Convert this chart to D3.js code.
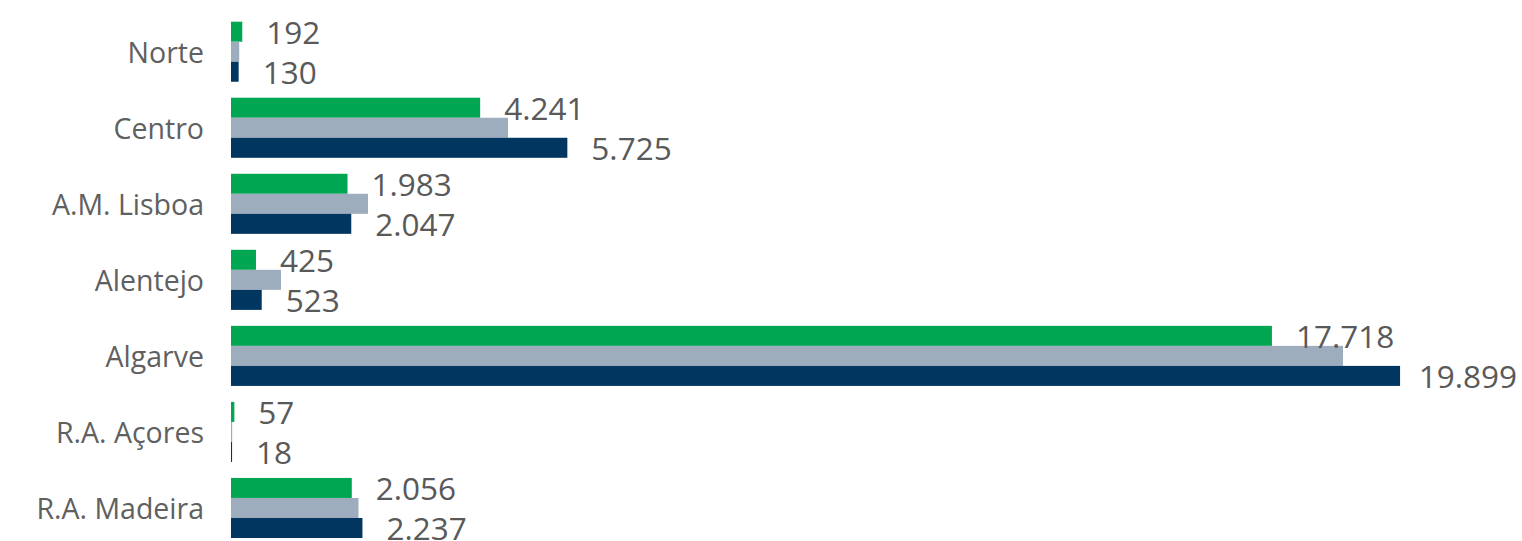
<!DOCTYPE html>
<html>
<head>
<meta charset="utf-8">
<script src="https://cdn.jsdelivr.net/npm/d3@7"></script>
<style>
  html, body { margin: 0; padding: 0; background: #ffffff; }
  svg { display: block; }
</style>
</head>
<body>
<svg id="chart" width="1522" height="541"></svg>
<script>
// ---- data ----
const categories = ["Norte", "Centro", "A.M. Lisboa", "Alentejo", "Algarve", "R.A. Açores", "R.A. Madeira"];
const seriesNames = ["s1", "s2", "s3"];
const series1 = [192, 4241, 1983, 425, 17718, 57, 2056];      // green (labelled)
const series2 = [140, 4715, 2332, 851, 18928, 20, 2170];      // gray (unlabelled, estimated)
const series3 = [130, 5725, 2047, 523, 19899, 18, 2237];      // navy (labelled)
const labelFlags = [true, false, true];

// ---- styles ----
const colors = ["#00a651", "#9eadbd", "#00365f"];
const W = 1522, H = 541;
const fmt = v => d3.format(",")(v).replace(/,/g, ".");

const svg = d3.select("#chart");
const allSeries = [series1, series2, series3];

const x = d3.scaleLinear().domain([0, 20000]).range([231, 1406]);
const y = d3.scaleBand().domain(categories).range([13.7, 546]).paddingInner(0.21).paddingOuter(0.105);
const ySub = d3.scaleBand().domain(seriesNames).range([0, y.bandwidth()]);

const groups = svg.selectAll("g.grp").data(categories).join("g")
  .attr("class", "grp")
  .attr("transform", d => `translate(0,${y(d)})`);

groups.selectAll("rect").data((d, i) => allSeries.map((s, k) => ({k, v: s[i]}))).join("rect")
  .attr("x", x(0))
  .attr("y", d => ySub(seriesNames[d.k]))
  .attr("width", d => x(d.v) - x(0))
  .attr("height", ySub.bandwidth())
  .attr("fill", d => colors[d.k]);

// value labels
const labelFont = 31.5;
groups.each(function(cat, i) {
  const g = d3.select(this);
  allSeries.forEach((s, k) => {
    if (!labelFlags[k]) return;
    const t = g.append("text")
      .attr("y", ySub(seriesNames[k]) + ySub.bandwidth() / 2 + 1)
      .attr("dy", "0.36em")
      .attr("font-family", "'Open Sans', sans-serif")
      .attr("font-size", labelFont)
      .attr("fill", "#595959")
      .text(fmt(s[i]));
    const tw = t.node().getComputedTextLength();
    t.attr("x", Math.min(x(s[i]) + 24, W - 5 - tw));
  });
});

// category axis labels
const yAxis = d3.axisLeft(y).tickSize(0).tickPadding(0);
const ax = svg.append("g").attr("transform", "translate(204,2)").call(yAxis);
ax.select(".domain").remove();
ax.selectAll("text")
  .attr("font-family", "'Open Sans', sans-serif")
  .attr("font-size", 28.5)
  .attr("fill", "#606060");
</script>
</body>
</html>
